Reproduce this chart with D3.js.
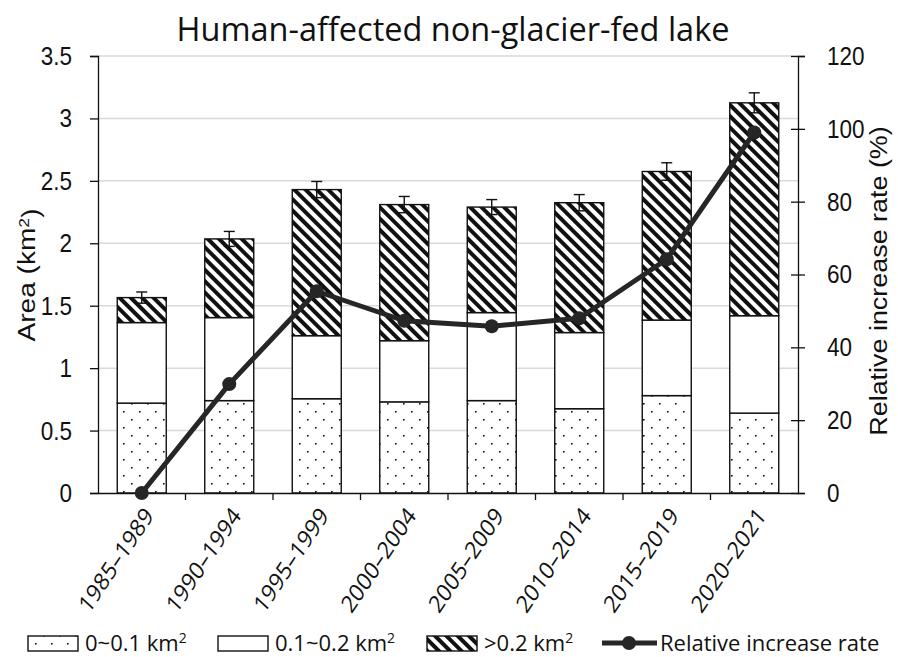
<!DOCTYPE html>
<html>
<head>
<meta charset="utf-8">
<script src="https://cdn.jsdelivr.net/npm/d3@7"></script>
<style>
  body { margin: 0; background: #fff; }
  svg { display: block; }
</style>
</head>
<body>
<div id="chart"></div>
<script>
// Data
const periods = ["1985–1989", "1990–1994", "1995–1999", "2000–2004", "2005–2009", "2010–2014", "2015–2019", "2020–2021"];
const small = [0.72, 0.74, 0.755, 0.73, 0.74, 0.675, 0.78, 0.64];      // 0~0.1 km2
const medium = [0.645, 0.665, 0.505, 0.49, 0.705, 0.61, 0.605, 0.78];  // 0.1~0.2 km2
const large = [0.2, 0.63, 1.17, 1.09, 0.845, 1.04, 1.19, 1.705];      // >0.2 km2
const errors = [0.045, 0.06, 0.065, 0.065, 0.06, 0.065, 0.07, 0.08];
const rate = [0, 29.9, 55.4, 47.3, 45.8, 48.0, 64.2, 99.0];            // relative increase rate (%)
const areaTicks = [0, 0.5, 1, 1.5, 2, 2.5, 3, 3.5];
const rateTicks = [0, 20, 40, 60, 80, 100, 120];
const legendLabels = ["0~0.1 km", "0.1~0.2 km", ">0.2 km", "Relative increase rate"];

const width = 898, height = 657;
const plotLeft = 98, plotRight = 798, plotTop = 56, plotBottom = 493;
const SY = 1.17; // reference axis text looks stretched vertically
const lineColor = "#262626";
const tickFont = "'Liberation Sans', Arial, sans-serif";
const labelFont = "'Open Sans', sans-serif";

const rows = periods.map((p, i) => ({period: p, small: small[i], medium: medium[i], large: large[i]}));
const keys = ["small", "medium", "large"];
const stacked = d3.stack().keys(keys)(rows);

const x = d3.scaleBand().domain(periods).range([plotLeft, plotRight]).paddingInner(0.44).paddingOuter(0.22);
const y = d3.scaleLinear().domain([0, 3.5]).range([plotBottom, plotTop]);
const y2 = d3.scaleLinear().domain([0, 120]).range([plotBottom, plotTop]);

const svg = d3.select("#chart").append("svg")
    .attr("width", width)
    .attr("height", height);

// patterns
const defs = svg.append("defs");
const dots = defs.append("pattern")
    .attr("id", "dots")
    .attr("patternUnits", "userSpaceOnUse")
    .attr("width", 16).attr("height", 16);
dots.append("rect").attr("width", 16).attr("height", 16).attr("fill", "#fff");
dots.append("rect").attr("x", 3).attr("y", 3).attr("width", 1.6).attr("height", 1.6).attr("fill", "#111");
dots.append("rect").attr("x", 11).attr("y", 11).attr("width", 1.6).attr("height", 1.6).attr("fill", "#111");

const hatch = defs.append("pattern")
    .attr("id", "hatch")
    .attr("patternUnits", "userSpaceOnUse")
    .attr("width", 8).attr("height", 8)
    .attr("patternTransform", "rotate(-45)");
hatch.append("rect").attr("width", 8).attr("height", 8).attr("fill", "#fff");
hatch.append("rect").attr("width", 4).attr("height", 8).attr("fill", "#111");

const fills = {small: "url(#dots)", medium: "#fff", large: "url(#hatch)"};

// gridlines
svg.append("g")
    .selectAll("line")
    .data(areaTicks.slice(1))
    .join("line")
    .attr("x1", plotLeft).attr("x2", plotRight)
    .attr("y1", d => y(d)).attr("y2", d => y(d))
    .attr("stroke", "#d9d9d9")
    .attr("stroke-width", 1.5);

// stacked bars
svg.append("g")
    .selectAll("g")
    .data(stacked)
    .join("g")
    .attr("fill", d => fills[d.key])
    .selectAll("rect")
    .data(d => d)
    .join("rect")
    .attr("x", d => x(d.data.period))
    .attr("width", x.bandwidth())
    .attr("y", d => y(d[1]))
    .attr("height", d => y(d[0]) - y(d[1]))
    .attr("stroke", "#111")
    .attr("stroke-width", 1.4);

// error bars
const totals = rows.map(r => r.small + r.medium + r.large);
const err = svg.append("g")
    .attr("stroke", "#111")
    .attr("stroke-width", 1.4)
    .selectAll("g")
    .data(periods)
    .join("g")
    .attr("transform", p => `translate(${x(p) + x.bandwidth() / 2},0)`);
err.append("line")
    .attr("y1", (p, i) => y(totals[i] - errors[i]))
    .attr("y2", (p, i) => y(totals[i] + errors[i]));
err.append("line")
    .attr("x1", -5.5).attr("x2", 5.5)
    .attr("y1", (p, i) => y(totals[i] + errors[i]))
    .attr("y2", (p, i) => y(totals[i] + errors[i]));
err.append("line")
    .attr("x1", -5.5).attr("x2", 5.5)
    .attr("y1", (p, i) => y(totals[i] - errors[i]))
    .attr("y2", (p, i) => y(totals[i] - errors[i]));

// left axis
const gLeft = svg.append("g")
    .attr("transform", `translate(${plotLeft},0)`)
    .call(d3.axisLeft(y).tickValues(areaTicks).tickSize(8).tickPadding(18).tickFormat(d => String(d)));
gLeft.selectAll("text")
    .attr("font-family", tickFont)
    .attr("font-size", 22.5)
    .attr("fill", "#111")
    .attr("transform", `scale(1,${SY})`);

// right axis
const gRight = svg.append("g")
    .attr("transform", `translate(${plotRight},0)`)
    .call(d3.axisRight(y2).tickValues(rateTicks).tickSize(7).tickPadding(22));
gRight.selectAll(".tick line").attr("x1", -7);
gRight.selectAll("text")
    .attr("font-family", tickFont)
    .attr("font-size", 22.5)
    .attr("fill", "#111")
    .attr("transform", `scale(1,${SY})`);

// bottom axis
const gBottom = svg.append("g")
    .attr("transform", `translate(0,${plotBottom})`)
    .call(d3.axisBottom(x).tickSize(0).tickSizeOuter(0));
gBottom.selectAll("text")
    .attr("x", 0).attr("y", 0).attr("dy", "0.35em")
    .attr("text-anchor", "end")
    .attr("font-family", labelFont)
    .attr("font-size", 21)
    .attr("fill", "#111")
    .attr("transform", `translate(7,18) scale(1,${SY}) rotate(-52)`);
const gap = (x.step() - x.bandwidth()) / 2;
gBottom.append("g")
    .selectAll("line")
    .data(periods.slice(1))
    .join("line")
    .attr("x1", p => x(p) - gap).attr("x2", p => x(p) - gap)
    .attr("y1", 0).attr("y2", 7)
    .attr("stroke", "#111");

[gLeft, gRight, gBottom].forEach(g => g.selectAll("path, line").attr("stroke", "#111").attr("stroke-width", 1.3));

// relative increase rate line
svg.append("path")
    .datum(rate)
    .attr("fill", "none")
    .attr("stroke", lineColor)
    .attr("stroke-width", 5)
    .attr("stroke-linejoin", "round")
    .attr("d", d3.line().x((d, i) => x(periods[i]) + x.bandwidth() / 2).y(d => y2(d)));
svg.append("g")
    .selectAll("circle")
    .data(rate)
    .join("circle")
    .attr("cx", (d, i) => x(periods[i]) + x.bandwidth() / 2)
    .attr("cy", d => y2(d))
    .attr("r", 7)
    .attr("fill", lineColor);

// title
svg.append("text")
    .attr("x", 453).attr("y", 41)
    .attr("text-anchor", "middle")
    .attr("font-family", labelFont)
    .attr("font-size", 32.5)
    .attr("fill", "#111")
    .text("Human-affected non-glacier-fed lake");

// axis titles
const leftTitle = svg.append("text")
    .attr("transform", `translate(35,275) scale(1,${SY}) rotate(-90)`)
    .attr("text-anchor", "middle")
    .attr("font-family", tickFont)
    .attr("font-size", 24)
    .attr("fill", "#111");
leftTitle.append("tspan").text("Area (km");
leftTitle.append("tspan").attr("dy", "-0.4em").attr("font-size", 15).text("2");
leftTitle.append("tspan").attr("dy", "0.4em").text(")");

svg.append("text")
    .attr("transform", `translate(887,281) scale(1,${SY}) rotate(-90)`)
    .attr("text-anchor", "middle")
    .attr("font-family", tickFont)
    .attr("font-size", 23)
    .attr("fill", "#111")
    .text("Relative increase rate (%)");

// legend
const legY = 651;
const legend = svg.append("g")
    .attr("font-family", labelFont)
    .attr("font-size", 22)
    .attr("fill", "#111");
const boxes = [{x: 28, fill: fills.small}, {x: 218, fill: fills.medium}, {x: 427, fill: fills.large}];
boxes.forEach((b, i) => {
  legend.append("rect")
      .attr("x", b.x).attr("y", legY - 15)
      .attr("width", 50).attr("height", 15)
      .attr("fill", b.fill)
      .attr("stroke", "#111")
      .attr("stroke-width", 1.4);
  const t = legend.append("text")
      .attr("x", b.x + 57).attr("y", legY);
  t.append("tspan").text(legendLabels[i]);
  t.append("tspan").attr("dy", "-0.55em").attr("font-size", 14).text("2");
});
legend.append("line")
    .attr("x1", 602).attr("x2", 657)
    .attr("y1", legY - 8).attr("y2", legY - 8)
    .attr("stroke", lineColor)
    .attr("stroke-width", 5);
legend.append("circle")
    .attr("cx", 629).attr("cy", legY - 8).attr("r", 7)
    .attr("fill", lineColor);
legend.append("text")
    .attr("x", 660).attr("y", legY)
    .text(legendLabels[3]);
</script>
</body>
</html>
